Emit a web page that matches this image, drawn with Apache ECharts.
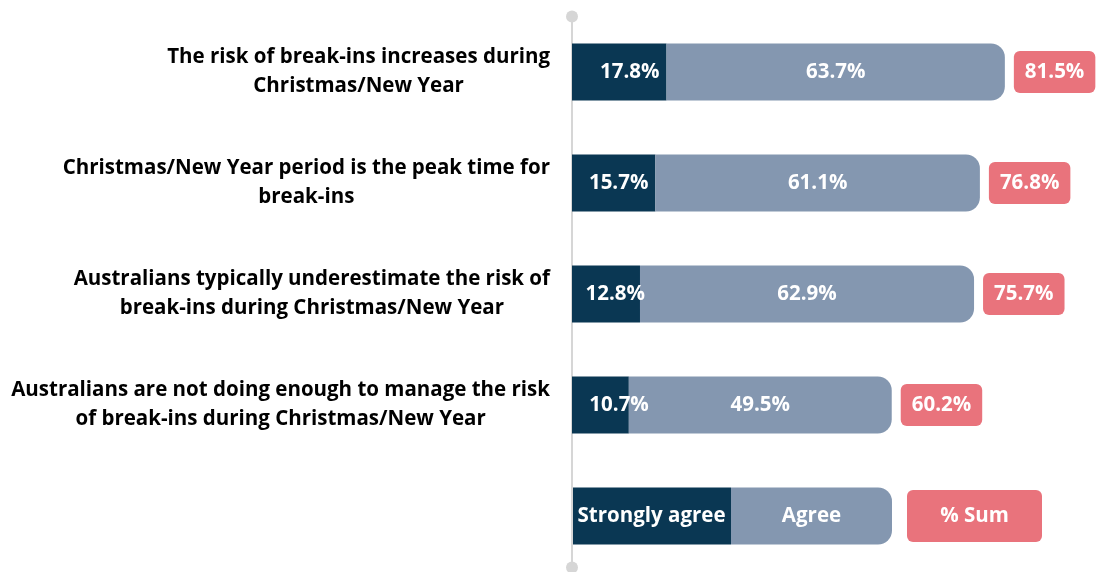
<!DOCTYPE html>
<html>
<head>
<meta charset="utf-8">
<script src="https://cdn.jsdelivr.net/npm/echarts@6/dist/echarts.min.js"></script>
<style>
html,body{margin:0;padding:0;background:#fff;}
#chart{width:1097px;height:572px;}
</style>
</head>
<body>
<div id="chart"></div>
<script>
const categories = [
  'The risk of break-ins increases during\nChristmas/New Year',
  'Christmas/New Year period is the peak time for\nbreak-ins',
  'Australians typically underestimate the risk of\nbreak-ins during Christmas/New Year',
  'Australians are not doing enough to manage the risk\nof break-ins during Christmas/New Year'
];
const stronglyAgree = [17.8, 15.7, 12.8, 10.7];
const agree = [63.7, 61.1, 62.9, 49.5];
const sumValues = stronglyAgree.map((v, i) => Math.round((v + agree[i]) * 10) / 10);
const legendNames = ['Strongly agree', 'Agree', '% Sum'];
// label nudges (px) for narrow dark segments, as in the reference
const darkLabelNudge = [0, 0, 12, 27];

const DARK = '#0a3753';
const LIGHT = '#8497b0';
const PINK = '#e9737c';
const FONT = 'Open Sans';
const FS = 20.5;

const chart = echarts.init(document.getElementById('chart'), null, {renderer: 'canvas'});

const labelBase = {
  show: true,
  color: '#fff',
  fontFamily: FONT,
  fontWeight: 'bold',
  fontSize: FS,
  formatter: p => p.value.toFixed(1) + '%'
};

const option = {
  animation: false,
  backgroundColor: '#fff',
  grid: {left: 572, right: 47, top: 16.5, height: 555, containLabel: false},
  xAxis: {
    type: 'value', min: 0, max: 90, show: false
  },
  yAxis: {
    type: 'category',
    inverse: true,
    data: categories.concat(['']),
    axisTick: {show: false},
    splitLine: {show: false},
    axisLine: {
      show: true,
      lineStyle: {color: '#d6d6d6', width: 2},
      symbol: ['circle', 'circle'],
      symbolSize: [12, 12],
      symbolOffset: [4, 0]
    },
    axisLabel: {
      align: 'right',
      margin: 22,
      formatter: v => v ? v.split('\n').map(l => '{c|' + l + '}').join('\n') : '',
      rich: {
        c: {
          align: 'center',
          fontFamily: FONT,
          fontWeight: 'bold',
          fontSize: FS,
          lineHeight: 29,
          color: '#000'
        }
      }
    }
  },
  series: [
    {
      name: legendNames[0],
      type: 'bar',
      stack: 'total',
      barWidth: 57,
      barGap: '-100%',
      data: stronglyAgree.map((v, i) => ({value: v, label: {offset: [darkLabelNudge[i], 0]}})),
      itemStyle: {color: DARK},
      label: Object.assign({}, labelBase, {position: 'insideRight', distance: 7}),
      silent: true
    },
    {
      name: legendNames[1],
      type: 'bar',
      stack: 'total',
      barWidth: 57,
      barGap: '-100%',
      data: agree,
      itemStyle: {color: LIGHT, borderRadius: [0, 14, 14, 0]},
      label: Object.assign({}, labelBase, {position: 'inside'}),
      silent: true
    },
    {
      name: legendNames[2],
      type: 'bar',
      barWidth: 57,
      barGap: '-100%',
      data: sumValues,
      itemStyle: {color: 'rgba(0,0,0,0)'},
      label: Object.assign({}, labelBase, {
        position: 'right',
        distance: 9,
        backgroundColor: PINK,
        borderRadius: 6,
        lineHeight: 24,
        padding: [9, 11, 9, 11]
      }),
      silent: true
    }
  ]
};

chart.setOption(option);

// Legend row drawn in the empty last category band
const legendY = chart.convertToPixel({yAxisIndex: 0}, categories.length);
const x0 = 572;
const boxH = 57;
const txt = (t) => ({
  type: 'text',
  style: {text: t, fill: '#fff', font: 'bold ' + FS + 'px "' + FONT + '"'}
});
chart.setOption({
  graphic: [
    {
      type: 'rect', left: x0, top: legendY - boxH / 2,
      shape: {x: 0, y: 0, width: 159, height: boxH},
      style: {fill: DARK},
      textContent: txt(legendNames[0]), textConfig: {position: 'inside'}
    },
    {
      type: 'rect', left: x0 + 159, top: legendY - boxH / 2,
      shape: {x: 0, y: 0, width: 161, height: boxH, r: [0, 14, 14, 0]},
      style: {fill: LIGHT},
      textContent: txt(legendNames[1]), textConfig: {position: 'inside'}
    },
    {
      type: 'rect', left: 907, top: legendY - 26,
      shape: {x: 0, y: 0, width: 135, height: 52, r: 6},
      style: {fill: PINK},
      textContent: txt(legendNames[2]), textConfig: {position: 'inside'}
    }
  ]
});
</script>
</body>
</html>
